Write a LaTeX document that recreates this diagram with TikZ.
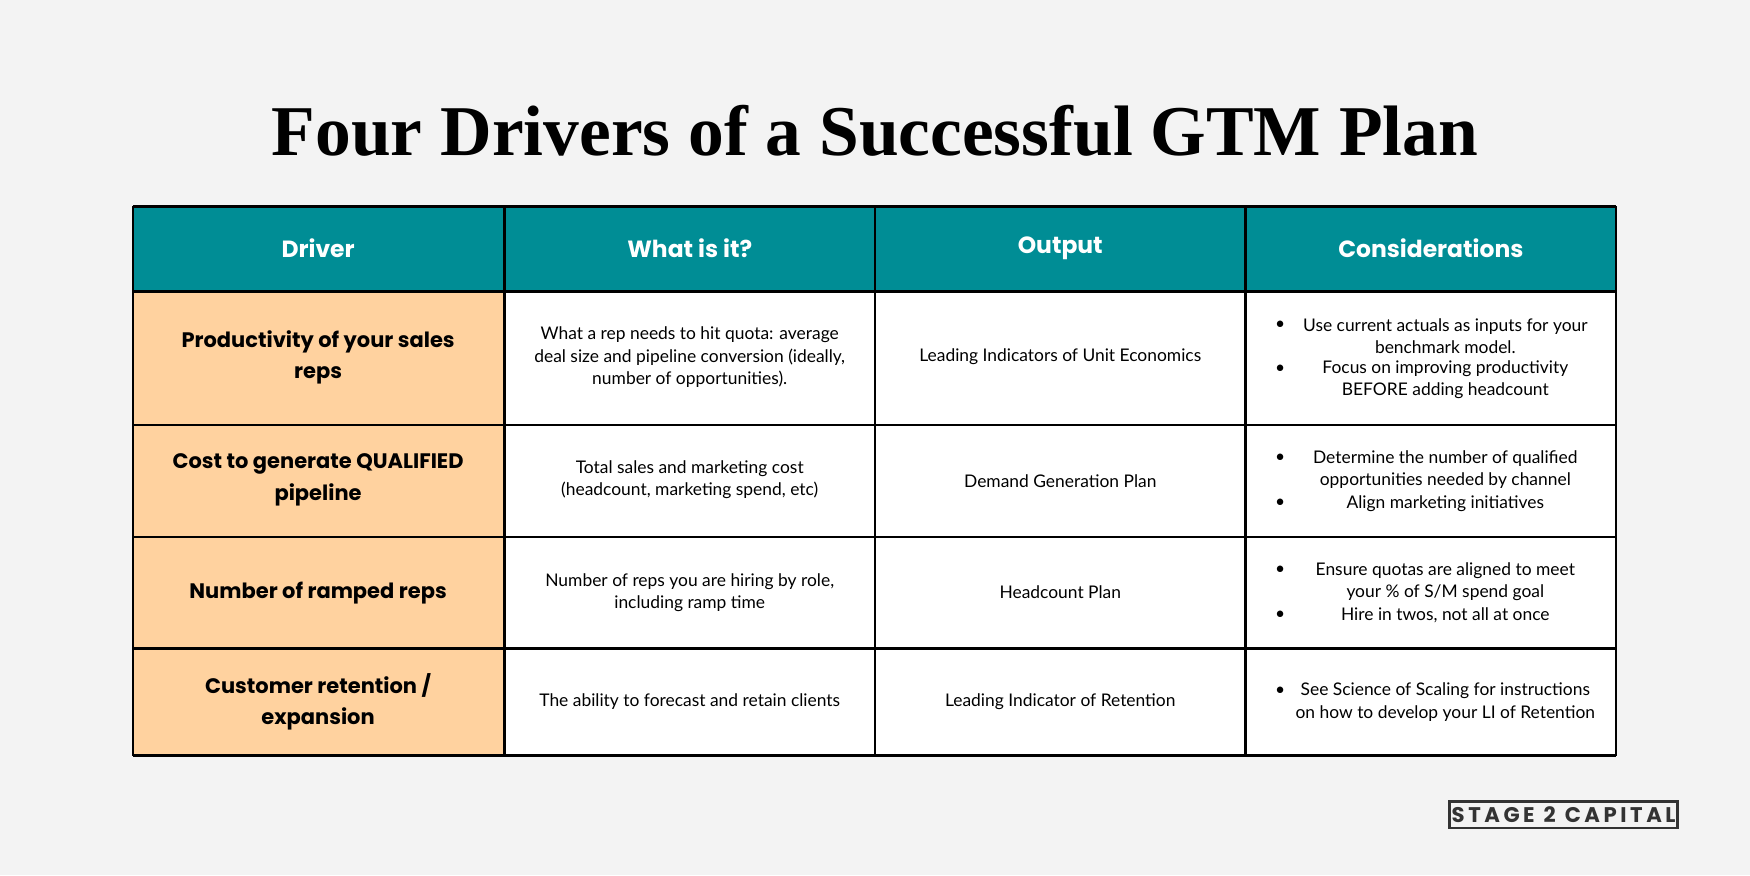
\documentclass[tikz,border=0pt]{standalone}
\usepackage{fontspec}
\setmainfont{Lato}
\newfontfamily\popfont{Poppins}
\newfontfamily\titlefont{Liberation Serif}
\definecolor{bg}{HTML}{F3F3F3}
\definecolor{teal}{HTML}{008D95}
\definecolor{peach}{HTML}{FFD29F}
\begin{document}
\begin{tikzpicture}[x=0.5pt,y=-0.5pt,
  cellline/.style={draw=black,line width=1.1pt},
  hdr/.style={text=white,font=\popfont\bfseries\fontsize{10.5}{12}\selectfont},
  drv/.style={font=\popfont\bfseries\fontsize{9.4}{14}\selectfont,align=center},
  body/.style={font=\fontsize{7.8}{10}\selectfont,align=center},
  bul/.style={font=\fontsize{7.8}{10}\selectfont,align=center},
  dot/.style={font=\fontsize{7.8}{10}\selectfont}]
\fill[bg] (0,0) rectangle (1568,784);
\useasboundingbox (0,0) rectangle (1568,784);
\node (title) at (784,117) {\titlefont\bfseries\fontsize{32}{35}\selectfont Four Drivers of a Successful GTM Plan};
\fill[teal] (119,185) rectangle (1448,261);
\fill[peach] (119,261) rectangle (452,677);
\fill[white] (452,261) rectangle (1448,677);
\foreach \y in {185,261,381,481,581,677} \draw[cellline] (119,\y) -- (1448,\y);
\foreach \x in {119,452,784,1116,1448} \draw[cellline] (\x,185) -- (\x,677);
\node[hdr] (h1) at (285,222) {Driver};
\node[hdr] (h2) at (618,222) {What is it?};
\node[hdr] (h3) at (950,222) {Output};
\node[hdr] (h4) at (1282,222) {Considerations};
% row 1
\node[drv] (d1) at (285,320) {Productivity of your sales\\reps};
\node[body] (w1) at (618,320) {What a rep needs to hit quota: average\\deal size and pipeline conversion (ideally,\\number of opportunities).};
\node[body] (o1) at (950,320) {Leading Indicators of Unit Economics};
\node[bul] (c1a) at (1295,301) {Use current actuals as inputs for your\\benchmark model.};
\node[bul] (c1b) at (1295,340) {Focus on improving productivity\\BEFORE adding headcount};
\node[dot] at (1147,291) {•}; \node[dot] at (1147,331) {•};
% row 2
\node[drv] (d2) at (285,430) {Cost to generate QUALIFIED\\pipeline};
\node[body] (w2) at (618,430) {Total sales and marketing cost\\(headcount, marketing spend, etc)};
\node[body] (o2) at (950,431) {Demand Generation Plan};
\node[bul] (c2a) at (1295,421) {Determine the number of qualified\\opportunities needed by channel};
\node[bul] (c2b) at (1295,451) {Align marketing initiatives};
\node[dot] at (1147,411) {•}; \node[dot] at (1147,451) {•};
% row 3
\node[drv] (d3) at (285,531) {Number of ramped reps};
\node[body] (w3) at (618,531) {Number of reps you are hiring by role,\\including ramp time};
\node[body] (o3) at (950,531) {Headcount Plan};
\node[bul] (c3a) at (1295,521) {Ensure quotas are aligned to meet\\your \% of S/M spend goal};
\node[bul] (c3b) at (1295,551) {Hire in twos, not all at once};
\node[dot] at (1147,511) {•}; \node[dot] at (1147,551) {•};
% row 4
\node[drv] (d4) at (285,629) {Customer retention /\\expansion};
\node[body] (w4) at (618,629) {The ability to forecast and retain clients};
\node[body] (o4) at (950,629) {Leading Indicator of Retention};
\node[bul] (c4a) at (1295,629) {See Science of Scaling for instructions\\on how to develop your LI of Retention};
\node[dot] at (1147,619) {•};
% logo
\node[draw=black!80,line width=1.2pt,minimum width=101pt,minimum height=12pt,inner sep=1pt,
  font=\popfont\bfseries\fontsize{9.5}{10}\selectfont,text=black!80] (logo) at (1401,730) {S\,T\,A\,G\,E\ \ 2\ \ C\,A\,P\,I\,T\,A\,L};
\end{tikzpicture}
\end{document}
